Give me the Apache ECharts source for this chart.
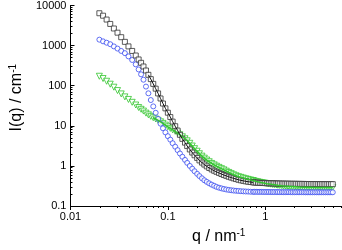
<!DOCTYPE html>
<html><head><meta charset="utf-8">
<script src="https://cdn.jsdelivr.net/npm/echarts@6/dist/echarts.min.js"></script>
<style>html,body{margin:0;padding:0;background:#fff}#c{width:342px;height:250px}</style>
</head><body><div id="c"></div>
<script>
// q values (nm^-1), shared by the three data sets
const q = [0.0198, 0.0216, 0.0235, 0.0256, 0.0279, 0.0304, 0.0332, 0.0362, 0.0394, 0.043, 0.0468,
  0.0501, 0.0531, 0.0562, 0.0596, 0.0631, 0.0668, 0.0708, 0.075, 0.0794, 0.0841,
  0.0891, 0.0944, 0.1, 0.106, 0.112, 0.119, 0.126, 0.133, 0.141, 0.15,
  0.158, 0.168, 0.178, 0.188, 0.2, 0.211, 0.224, 0.237, 0.251, 0.266,
  0.282, 0.299, 0.316, 0.335, 0.355, 0.376, 0.398, 0.422, 0.447, 0.473,
  0.501, 0.531, 0.562, 0.596, 0.631, 0.668, 0.708, 0.75,
  0.773, 0.807, 0.843, 0.88, 0.919, 0.959, 1.0, 1.045, 1.09, 1.14,
  1.19, 1.24, 1.3, 1.35, 1.41, 1.48, 1.54, 1.61, 1.68, 1.75,
  1.83, 1.91, 2.0, 2.08, 2.18, 2.27, 2.37, 2.48, 2.59, 2.7,
  2.82, 2.94, 3.07, 3.21, 3.35, 3.5, 3.65, 3.81, 3.98, 4.15,
  4.34, 4.53, 4.73, 4.94];

// Black squares
const iBlack = [6410, 5570, 4460, 3470, 2670, 2100, 1620, 1240, 955, 736, 566,
  451, 372, 301, 239, 187, 146, 111, 84.3, 64.2, 48.0,
  35.9, 27.2, 21.2, 16.5, 12.7, 9.77, 7.61, 5.96, 4.72, 3.80,
  3.12, 2.57, 2.15, 1.84, 1.58, 1.37, 1.21, 1.08, 0.973, 0.887,
  0.815, 0.757, 0.711, 0.668, 0.628, 0.593, 0.564, 0.535, 0.512, 0.489,
  0.470, 0.451, 0.436, 0.424, 0.412, 0.403, 0.396, 0.388,
  0.386, 0.383, 0.38, 0.378, 0.376, 0.374, 0.372, 0.37, 0.369, 0.368,
  0.367, 0.366, 0.365, 0.364, 0.363, 0.362, 0.361, 0.36, 0.36, 0.359,
  0.358, 0.358, 0.357, 0.357, 0.356, 0.356, 0.355, 0.355, 0.354, 0.354,
  0.353, 0.353, 0.352, 0.352, 0.352, 0.351, 0.351, 0.351, 0.35, 0.35,
  0.35, 0.35, 0.35, 0.35];

// Blue circles
const iBlue = [1406, 1277, 1180, 1083, 955, 843, 736, 649, 538, 438, 340,
  254, 192, 141, 95, 64.6, 43.9, 30.5, 21.1, 14.9, 11.3,
  8.67, 6.84, 5.51, 4.51, 3.68, 3.01, 2.47, 2.04, 1.69, 1.41,
  1.19, 1.0, 0.853, 0.736, 0.634, 0.557, 0.491, 0.438, 0.400, 0.367,
  0.341, 0.319, 0.300, 0.286, 0.275, 0.266, 0.258, 0.252, 0.247, 0.243,
  0.240, 0.237, 0.234, 0.232, 0.230, 0.229, 0.227, 0.226,
  0.226, 0.226, 0.225, 0.225, 0.225, 0.224, 0.224, 0.224, 0.224, 0.223,
  0.223, 0.223, 0.223, 0.223, 0.222, 0.222, 0.222, 0.222, 0.222, 0.222,
  0.221, 0.221, 0.221, 0.221, 0.221, 0.221, 0.221, 0.221, 0.22, 0.22,
  0.22, 0.22, 0.22, 0.22, 0.22, 0.22, 0.22, 0.22, 0.22, 0.22,
  0.22, 0.22, 0.22, 0.22];

// Green triangles
const iGreen = [172, 151, 129, 109, 91.8, 75.7, 62.4, 52.6, 45.4, 38.5, 33,
  28.6, 25.8, 23.3, 20.7, 18.8, 17.2, 15.9, 14.8, 13.7, 12.6,
  11.5, 10.4, 9.44, 8.63, 7.92, 7.27, 6.61, 5.96, 5.32, 4.75,
  4.22, 3.66, 3.13, 2.69, 2.32, 2.01, 1.75, 1.56, 1.40, 1.27,
  1.15, 1.06, 0.984, 0.918, 0.853, 0.796, 0.739, 0.687, 0.641, 0.600,
  0.566, 0.538, 0.518, 0.497, 0.478, 0.461, 0.446, 0.432,
  0.42, 0.41, 0.40, 0.39, 0.38, 0.375, 0.37, 0.36, 0.355, 0.35,
  0.345, 0.34, 0.335, 0.33, 0.326, 0.322, 0.318, 0.315, 0.312, 0.31,
  0.307, 0.305, 0.302, 0.30, 0.298, 0.297, 0.296, 0.295, 0.294, 0.293,
  0.293, 0.292, 0.292, 0.291, 0.291, 0.291, 0.29, 0.29, 0.29, 0.29,
  0.29, 0.29, 0.29, 0.29];

// q ranges where the dense data merge into a continuous trace
const blackTraceRange = [0.06, 0.75];
const greenTraceRange = [0.07, 4.94];

const xTicks = [0.01, 0.1, 1];
const xTickLabels = ['0.01', '0.1', '1'];
const xMinor = [0.02, 0.03, 0.04, 0.05, 0.06, 0.07, 0.08, 0.09,
  0.2, 0.3, 0.4, 0.5, 0.6, 0.7, 0.8, 0.9, 2, 3, 4, 5, 6];
const yTicks = [0.1, 1, 10, 100, 1000, 10000];
const yTickLabels = ['0.1', '1', '10', '100', '1000', '10000'];
const yMinor = [0.2, 0.3, 0.4, 0.5, 0.6, 0.7, 0.8, 0.9,
  2, 3, 4, 5, 6, 7, 8, 9, 20, 30, 40, 50, 60, 70, 80, 90,
  200, 300, 400, 500, 600, 700, 800, 900, 2000, 3000, 4000, 5000, 6000, 7000, 8000, 9000];

const FONT = 'Liberation Sans, Arial, sans-serif';
function labelFor(ticks, labels) {
  return function (v) {
    for (let i = 0; i < ticks.length; i++) {
      if (Math.abs(Math.log10(v) - Math.log10(ticks[i])) < 1e-6) return labels[i];
    }
    return '';
  };
}
function pairs(ys) { return q.map((x, i) => [x, ys[i]]); }
function inRange(ys, r) { return pairs(ys).filter(p => p[0] >= r[0] && p[0] <= r[1]); }

const chart = echarts.init(document.getElementById('c'), null, { renderer: 'canvas' });
const axisLineStyle = { color: '#000', width: 1 };
const GREEN = '#33c52e', BLUE = '#3a4cf0', BLACK = '#333';
chart.setOption({
  animation: false,
  backgroundColor: '#fff',
  grid: { left: 60, right: 1, top: 5, bottom: 42, containLabel: false },
  xAxis: [
    {
      type: 'log', logBase: 10, min: 0.01, max: 6, position: 'bottom',
      axisLine: { show: true, onZero: false, lineStyle: axisLineStyle },
      axisTick: { show: true, customValues: xTicks, inside: false, length: 4, lineStyle: axisLineStyle },
      axisLabel: { customValues: xTicks, formatter: labelFor(xTicks, xTickLabels), fontSize: 11, color: '#000', fontFamily: FONT, margin: 5 },
      splitLine: { show: false },
      name: '{a|q / nm}{s|-1}', nameLocation: 'middle', nameGap: 22,
      nameTextStyle: { padding: [0, 0, 0, 26], rich: {
        a: { fontSize: 16, fontFamily: FONT, color: '#000', lineHeight: 18 },
        s: { fontSize: 10, fontFamily: FONT, color: '#000', verticalAlign: 'top', lineHeight: 10 } } }
    },
    {
      type: 'log', logBase: 10, min: 0.01, max: 6, position: 'bottom',
      axisLine: { show: false, onZero: false },
      axisTick: { show: true, customValues: xMinor, inside: false, length: 2, lineStyle: axisLineStyle },
      axisLabel: { show: false }, splitLine: { show: false }
    }
  ],
  yAxis: [
    {
      type: 'log', logBase: 10, min: 0.1, max: 10000, position: 'left',
      axisLine: { show: true, onZero: false, lineStyle: axisLineStyle },
      axisTick: { show: true, customValues: yTicks, inside: true, length: 4, lineStyle: axisLineStyle },
      axisLabel: { customValues: yTicks, formatter: labelFor(yTicks, yTickLabels), fontSize: 11, color: '#000', fontFamily: FONT, margin: 4 },
      splitLine: { show: false },
      name: '{a|I(q) / cm}{s|-1}', nameLocation: 'middle', nameGap: 40,
      nameTextStyle: { padding: [0, 0, 0, 16], rich: {
        a: { fontSize: 16, fontFamily: FONT, color: '#000', lineHeight: 18 },
        s: { fontSize: 10, fontFamily: FONT, color: '#000', verticalAlign: 'top', lineHeight: 10 } } }
    },
    {
      type: 'log', logBase: 10, min: 0.1, max: 10000, position: 'left',
      axisLine: { show: false, onZero: false },
      axisTick: { show: true, customValues: yMinor, inside: true, length: 2, lineStyle: axisLineStyle },
      axisLabel: { show: false }, splitLine: { show: false }
    }
  ],
  series: [
    { type: 'scatter', name: 'green', xAxisIndex: 0, yAxisIndex: 0, data: pairs(iGreen),
      symbol: 'triangle', symbolRotate: 180, symbolSize: 6,
      itemStyle: { color: '#fff', borderColor: GREEN, borderWidth: 1 }, z: 2 },
    { type: 'scatter', name: 'blue', xAxisIndex: 0, yAxisIndex: 0, data: pairs(iBlue),
      symbol: 'circle', symbolSize: 5,
      itemStyle: { color: '#fff', borderColor: BLUE, borderWidth: 1 }, z: 3 },
    { type: 'scatter', name: 'black', xAxisIndex: 0, yAxisIndex: 0, data: pairs(iBlack),
      symbol: 'rect', symbolSize: 5,
      itemStyle: { color: '#fff', borderColor: BLACK, borderWidth: 1 }, z: 4 },
    { type: 'line', name: 'green trace', xAxisIndex: 0, yAxisIndex: 0, data: inRange(iGreen, greenTraceRange),
      showSymbol: false, smooth: false, lineStyle: { color: GREEN, width: 1.5 }, z: 5 },
    { type: 'line', name: 'black trace', xAxisIndex: 0, yAxisIndex: 0, data: inRange(iBlack, blackTraceRange),
      showSymbol: false, smooth: false, lineStyle: { color: '#111', width: 1 }, z: 6 }
  ]
});
</script>
</body></html>
